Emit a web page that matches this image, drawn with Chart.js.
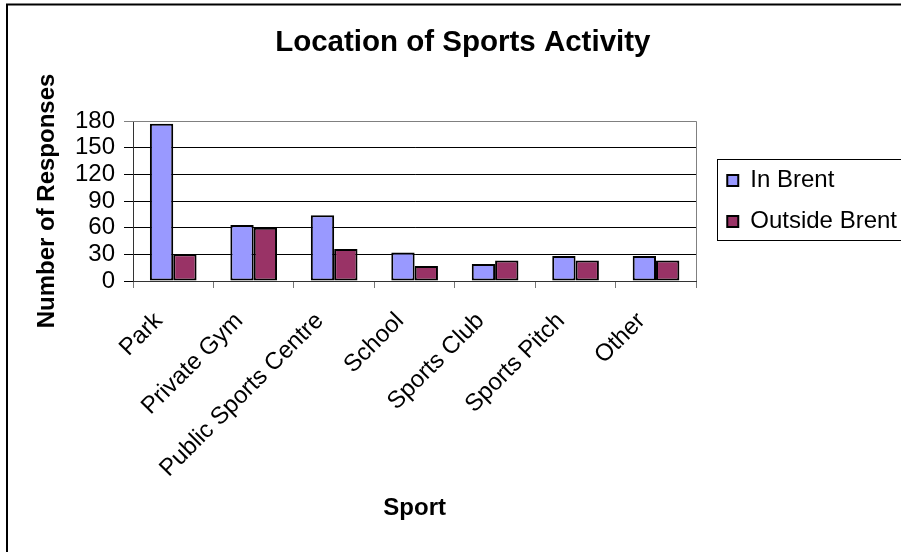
<!DOCTYPE html>
<html><head><meta charset="utf-8">
<script src="https://cdn.jsdelivr.net/npm/chart.js@4.4.0/dist/chart.umd.min.js"></script>
<style>
html,body{margin:0;padding:0;overflow:hidden;background:#fff}
#wrap{position:absolute;left:0;top:0;width:920px;height:560px}
</style>
</head><body>
<div id="wrap"><canvas id="c"></canvas></div>
<script>
// ---- data ----
const categories = ['Park', 'Private Gym', 'Public Sports Centre', 'School', 'Sports Club', 'Sports Pitch', 'Other'];
const inBrent = [177, 63, 74, 32, 19, 28, 28];
const outsideBrent = [30, 60, 36, 17, 23, 23, 23];
const seriesNames = ['In Brent', 'Outside Brent'];
const yTicks = [0, 30, 60, 90, 120, 150, 180];
const chartTitle = 'Location of Sports Activity';
const xTitle = 'Sport';
const yTitle = 'Number of Responses';

// ---- styles ----
const FONT = "'Liberation Sans', Arial, Helvetica, sans-serif";
Chart.defaults.font.family = FONT;
Chart.defaults.color = '#000';

const LEGEND_SHIFT = 14;

const framePlugin = {
  id: 'frame',
  beforeDraw(chart) {
    const c = chart.ctx;
    c.save();
    c.fillStyle = '#fff';
    c.fillRect(0, 0, chart.width, chart.height);
    c.restore();
  },
  afterLayout(chart) {
    const l = chart.legend;
    if (l) { l.left += LEGEND_SHIFT; l.right += LEGEND_SHIFT; }
  },
  beforeDatasetsDraw(chart) {
    const {ctx, chartArea: a} = chart;
    ctx.save();
    ctx.strokeStyle = '#808080';
    ctx.lineWidth = 1;
    ctx.beginPath();
    ctx.moveTo(a.left, Math.round(a.top) + 0.5);
    ctx.lineTo(Math.round(a.right) + 0.5, Math.round(a.top) + 0.5);
    ctx.lineTo(Math.round(a.right) + 0.5, a.bottom);
    ctx.stroke();
    ctx.restore();
  },
  afterDraw(chart) {
    const ctx = chart.ctx;
    ctx.save();
    const l = chart.legend;
    const hb = l && l.legendHitBoxes;
    if (hb && hb.length) {
      const first = hb[0], last = hb[hb.length - 1];
      const x0 = Math.round(first.left - 10) + 0.5;
      const y0 = Math.round(first.top - 9.5) + 0.5;
      const y1 = Math.round(last.top + last.height + 6.5) + 0.5;
      ctx.strokeStyle = '#000';
      ctx.lineWidth = 1;
      ctx.strokeRect(x0, y0, chart.width, y1 - y0);
    }
    ctx.strokeStyle = '#000';
    ctx.lineWidth = 2;
    ctx.strokeRect(7, 4.5, chart.width + 50, chart.height + 50);
    ctx.restore();
  }
};

new Chart(document.getElementById('c'), {
  type: 'bar',
  data: {
    labels: categories,
    datasets: [
      { label: seriesNames[0], data: inBrent, backgroundColor: '#9999FF', borderColor: '#000', borderWidth: 2, borderSkipped: false },
      { label: seriesNames[1], data: outsideBrent, backgroundColor: '#993366', borderColor: '#000', borderWidth: 2, borderSkipped: false }
    ]
  },
  options: {
    responsive: true,
    maintainAspectRatio: false,
    devicePixelRatio: 1,
    animation: false,
    layout: { padding: { left: 32.6, right: 27, top: 0, bottom: 37.6 } },
    datasets: { bar: { categoryPercentage: 0.58, barPercentage: 1 } },
    plugins: {
      title: {
        display: true, text: chartTitle,
        font: { size: 29.5, weight: 'bold', family: FONT },
        color: '#000',
        padding: { top: 25.3, bottom: 60.3 }
      },
      legend: {
        position: 'right',
        fullSize: false,
        labels: {
          font: { size: 24, family: FONT },
          color: '#000',
          boxWidth: 11, boxHeight: 11,
          padding: 17
        }
      },
      tooltip: { enabled: false }
    },
    scales: {
      x: {
        grid: { display: true, drawOnChartArea: false, offset: true, tickLength: 7, color: '#777', lineWidth: 1 },
        border: { display: true, color: '#333', width: 1 },
        ticks: {
          autoSkip: false, minRotation: 45, maxRotation: 45,
          padding: 19, labelOffset: -14.5,
          font: { size: 24, family: FONT }, color: '#000'
        },
        title: { display: true, text: xTitle, font: { size: 24, weight: 'bold', family: FONT }, color: '#000', padding: 0 },
        afterFit(scale) { scale.height = 241.4; }
      },
      y: {
        min: yTicks[0], max: yTicks[yTicks.length - 1],
        grid: {
          color: (ctx) => (ctx.tick && ctx.tick.value === yTicks[yTicks.length - 1]) ? '#808080' : '#000',
          tickLength: 9, lineWidth: 1
        },
        border: { display: true, color: '#333', width: 1 },
        ticks: {
          autoSkip: false,
          stepSize: yTicks[1] - yTicks[0], padding: 9,
          font: { size: 24, family: FONT }, color: '#000'
        },
        title: { display: true, text: yTitle, font: { size: 24, weight: 'bold', family: FONT }, color: '#000', padding: 0 },
        afterFit(scale) { scale.width = 100.4; }
      }
    }
  },
  plugins: [framePlugin]
});
</script>
</body></html>
